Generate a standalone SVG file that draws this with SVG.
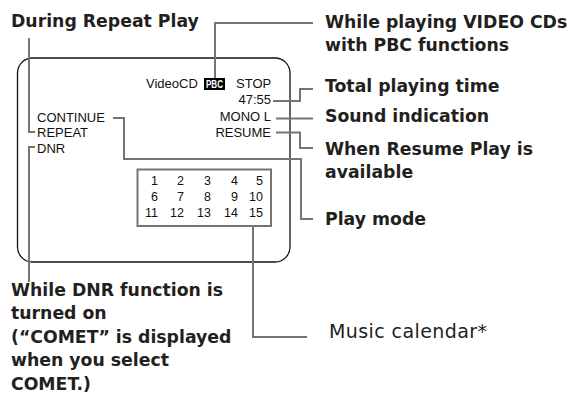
<svg xmlns="http://www.w3.org/2000/svg" width="579" height="408" viewBox="0 0 579 408">
<style>
.lbl{font-family:"DejaVu Sans","Liberation Sans",sans-serif;font-weight:bold;font-size:17.3px;fill:#231f20}
.lbl2{font-family:"DejaVu Sans","Liberation Sans",sans-serif;font-weight:normal;font-size:19px;fill:#231f20}
.scr{font-family:"Liberation Sans",Arial,sans-serif;font-size:13px;fill:#111}
.num{font-family:"Liberation Sans",Arial,sans-serif;font-size:12.5px;fill:#111;text-anchor:end}
.ld{fill:none;stroke:#747474;stroke-width:2}
</style>
<g id="screen">
<rect x="17.5" y="58" width="272.5" height="204" rx="15" ry="15" fill="none" stroke="#111" stroke-width="1.3"/>
<text class="scr" x="146" y="88">VideoCD</text>
<rect x="204" y="78" width="21" height="12" fill="#000"/>
<text x="214.5" y="88" text-anchor="middle" font-family="'Liberation Sans',Arial,sans-serif" font-weight="bold" font-size="10" fill="#fff" textLength="17" lengthAdjust="spacingAndGlyphs">PBC</text>
<text class="scr" x="236" y="88">STOP</text>
<text class="scr" x="271" y="104" text-anchor="end">47:55</text>
<text class="scr" x="271" y="121" text-anchor="end">MONO L</text>
<text class="scr" x="271" y="137" text-anchor="end">RESUME</text>
<text class="scr" x="37" y="122">CONTINUE</text>
<text class="scr" x="37" y="137">REPEAT</text>
<text class="scr" x="37" y="153">DNR</text>
</g>
<g id="calendar">
<rect x="137.5" y="169.5" width="133.5" height="56.5" fill="none" stroke="#747474" stroke-width="2"/>
<text class="num" y="185"><tspan x="158">1</tspan><tspan x="184">2</tspan><tspan x="211">3</tspan><tspan x="238">4</tspan><tspan x="263">5</tspan></text>
<text class="num" y="201"><tspan x="158">6</tspan><tspan x="184">7</tspan><tspan x="211">8</tspan><tspan x="238">9</tspan><tspan x="263">10</tspan></text>
<text class="num" y="217"><tspan x="158">11</tspan><tspan x="184">12</tspan><tspan x="211">13</tspan><tspan x="238">14</tspan><tspan x="263">15</tspan></text>
</g>
<g id="connectors">
<polyline class="ld" points="29,38 29,132 35,132"/>
<polyline class="ld" points="35,147 29,147 29,282"/>
<polyline class="ld" points="215,78 215,23 313,23"/>
<polyline class="ld" points="273,101 300,101 300,89 313,89"/>
<polyline class="ld" points="276,118.5 313,118.5"/>
<polyline class="ld" points="276,132.5 300,132.5 300,148 313,148"/>
<polyline class="ld" points="113,118 124,118 124,159 301,159 301,219 313,219"/>
<polyline class="ld" points="253,226 253,337 307,337"/>
</g>
<g id="labels">
<text class="lbl" x="11" y="27">During Repeat Play</text>
<text class="lbl" x="325" y="28">While playing VIDEO CDs</text>
<text class="lbl" x="325" y="51">with PBC functions</text>
<text class="lbl" x="325" y="92">Total playing time</text>
<text class="lbl" x="325" y="122">Sound indication</text>
<text class="lbl" x="325" y="155">When Resume Play is</text>
<text class="lbl" x="325" y="178">available</text>
<text class="lbl" x="325" y="225">Play mode</text>
<text class="lbl2" x="329" y="338" textLength="158" lengthAdjust="spacing">Music calendar*</text>
<text class="lbl" x="11" y="296">While DNR function is</text>
<text class="lbl" x="11" y="319">turned on</text>
<text class="lbl" x="11" y="343">(“COMET” is displayed</text>
<text class="lbl" x="11" y="366">when you select</text>
<text class="lbl" x="11" y="390">COMET.)</text>
</g>
</svg>
